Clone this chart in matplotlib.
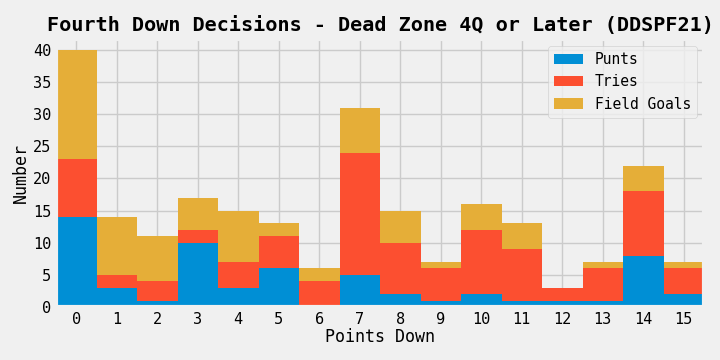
import matplotlib
matplotlib.use("Agg")
import matplotlib.pyplot as plt
import numpy as np

plt.style.use("fivethirtyeight")
plt.rcParams["font.family"] = ["DejaVu Sans Mono"]

points_down = list(range(16))
punts = [14, 3, 1, 10, 3, 6, 0, 5, 2, 1, 2, 1, 1, 1, 8, 2]
tries = [9, 2, 3, 2, 4, 5, 4, 19, 8, 5, 10, 8, 2, 5, 10, 4]
field_goals = [17, 9, 7, 5, 8, 2, 2, 7, 5, 1, 4, 4, 0, 1, 4, 1]

fig = plt.figure(figsize=(7.2, 3.6), dpi=100)
ax = fig.add_axes([56 / 720, 1 - 307 / 360, 648 / 720, 268 / 360])

x = np.array(points_down)
p = np.array(punts)
t = np.array(tries)
f = np.array(field_goals)

ax.bar(x, p, width=1, color="#008fd5", label="Punts")
ax.bar(x, t, width=1, bottom=p, color="#fc4f30", label="Tries")
ax.bar(x, f, width=1, bottom=p + t, color="#e5ae38", label="Field Goals")

ax.set_xlim(-0.5, 15.5)
ax.set_ylim(0, 41.7)
ax.set_xticks(x)
ax.set_yticks(range(0, 41, 5))
ax.tick_params(labelsize=11)
ax.set_xlabel("Points Down", fontsize=12, labelpad=1)
ax.set_ylabel("Number", fontsize=12, labelpad=2)
ax.set_title("Fourth Down Decisions - Dead Zone 4Q or Later (DDSPF21)",
             fontsize=14.5, fontweight="bold", pad=6)
ax.legend(loc="upper right", fontsize=10.5, frameon=True)

fig.savefig("out.png", dpi=100, facecolor=fig.get_facecolor())
